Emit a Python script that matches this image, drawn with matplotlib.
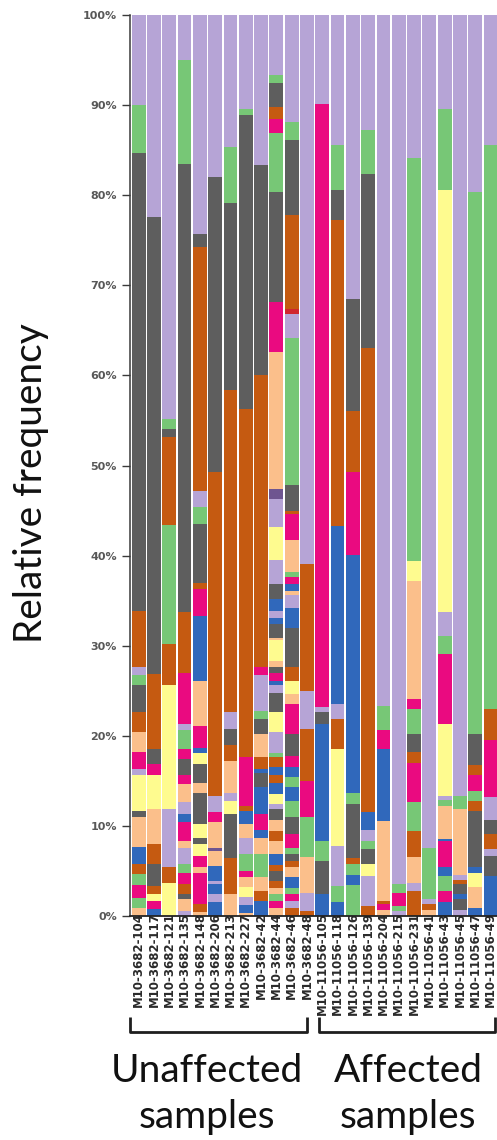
import numpy as np
import matplotlib
matplotlib.use("Agg")
import matplotlib.pyplot as plt
from matplotlib.transforms import blended_transform_factory

# ---------------------------------------------------------------- data
sample_labels = [
    "M10-3682-104", "M10-3682-117", "M10-3682-121", "M10-3682-135",
    "M10-3682-148", "M10-3682-206", "M10-3682-213", "M10-3682-227",
    "M10-3682-42", "M10-3682-44", "M10-3682-46", "M10-3682-48",
    "M10-11056-105", "M10-11056-118", "M10-11056-126", "M10-11056-139",
    "M10-11056-204", "M10-11056-215", "M10-11056-231", "M10-11056-41",
    "M10-11056-43", "M10-11056-45", "M10-11056-47", "M10-11056-49",
]
group_names = ["Unaffected\nsamples", "Affected\nsamples"]

# colour used for each taxon code
taxon_colors = {
    "L": "#b6a4d6",  # lavender
    "G": "#77c776",  # green
    "K": "#5e5e5e",  # grey
    "O": "#c55a11",  # rust orange
    "P": "#fbbf8b",  # peach
    "M": "#ea0a80",  # magenta
    "B": "#3068bb",  # blue
    "Y": "#fefb8f",  # pale yellow
    "V": "#6e5590",  # dark violet
    "R": "#d0262e",  # red
}

# taxon code of every layer, bottom to top, one string per sample
stack_codes = [
    "PGMGOBPKYLMPOKGLOKGL",
    "BMYOKOPYMKOKL",
    "YOLYOGOKGL",
    "LPKOMGLPMBLPMKMGLMOKGL",
    "POMPMYKYKPKYBMPBMOKGLOKL",
    "BLBLBPVPMLOKL",
    "POKYLPOKLOKGL",
    "PBLYPMGLPBOMOKGL",
    "BOPGPBMBKBOPKGLMOKL",
    "PMGPOKOBPOPKLYBOBOGLYKLBMKPYPKBLBKLYLVPMKGMOKGL",
    "OLMGBPOKGMKGBGBMKMPYOKBLPBMGPMOKGLROKGL",
    "OLPGMOLOL",
    "BKGBKLML",
    "BGLYOLBOKGL",
    "GBGOKGBMOKL",
    "OLYKGLBOKGL",
    "PMOPBMGL",
    "LGMGL",
    "OLPOGMOKGMPYGL",
    "POLGL",
    "BMGBMBPGLYMGLYGL",
    "LKBKOLPGL",
    "BPYBKOGMOKGL",
    "BKLOKLMOGL",
]

# cumulative relative frequency (%) at the top of every layer
stack_tops = [
    [0.9, 2.0, 3.4, 4.7, 5.8, 7.7, 11.0, 11.7, 15.6, 16.3, 18.2, 20.4, 22.6,
     25.6, 26.8, 27.6, 33.9, 84.7, 90.0, 100],
    [0.8, 1.7, 2.4, 3.3, 5.8, 8.0, 11.9, 15.7, 16.9, 18.5, 26.9, 77.6, 100],
    [3.7, 5.4, 11.9, 25.6, 30.2, 43.4, 53.2, 54.0, 55.2, 100],
    [0.6, 1.9, 2.4, 3.5, 4.8, 5.8, 7.6, 8.3, 10.4, 11.3, 12.6, 14.6, 15.7,
     17.4, 18.5, 20.6, 21.3, 27.0, 33.7, 83.5, 95.0, 100],
    [0.4, 1.3, 4.8, 5.4, 6.7, 8.0, 8.7, 10.2, 13.7, 14.8, 16.9, 18.1, 18.7,
     21.1, 26.1, 33.3, 36.3, 37.0, 43.5, 45.4, 47.2, 74.3, 75.7, 100],
    [1.5, 2.4, 3.5, 3.9, 5.6, 7.2, 7.6, 10.4, 11.5, 13.3, 49.3, 82.0, 100],
    [2.4, 6.4, 11.3, 12.8, 13.6, 17.2, 19.0, 20.8, 22.6, 58.4, 79.1, 85.4, 100],
    [0.3, 1.2, 2.1, 3.2, 4.3, 5.0, 6.9, 8.7, 10.2, 11.7, 12.2, 17.6, 56.3,
     88.9, 89.6, 100],
    [1.7, 2.8, 4.3, 6.9, 8.7, 9.5, 11.3, 14.3, 15.9, 16.3, 17.6, 20.2, 21.9,
     22.8, 26.7, 27.6, 60.0, 83.4, 100],
    [0.9, 1.7, 2.4, 3.1, 3.9, 5.0, 5.7, 6.9, 8.3, 9.4, 10.7, 11.9, 12.4, 13.5,
     14.8, 15.7, 16.5, 17.6, 18.1, 20.4, 22.6, 24.8, 25.6, 26.1, 27.0, 27.6,
     28.3, 30.6, 30.9, 32.4, 33.1, 33.9, 35.2, 36.9, 39.5, 43.2, 46.3, 47.4,
     62.6, 68.2, 80.4, 86.9, 88.5, 89.8, 92.4, 93.3, 100],
    [0.9, 1.7, 2.4, 3.1, 4.3, 5.4, 6.1, 6.9, 7.6, 9.1, 11.0, 12.8, 14.3, 15.4,
     16.5, 17.8, 20.2, 23.5, 24.6, 26.1, 27.6, 32.0, 34.2, 35.6, 36.1, 36.9,
     37.6, 38.2, 41.7, 44.6, 45.0, 47.8, 64.1, 66.8, 67.4, 77.8, 86.1, 88.1,
     100],
    [0.6, 2.6, 6.5, 11.0, 15.0, 20.7, 25.0, 39.1, 100],
    [2.4, 6.1, 8.3, 21.3, 22.6, 23.2, 90.1, 100],
    [1.5, 3.3, 7.8, 18.5, 21.9, 23.5, 43.3, 77.2, 80.6, 85.6, 100],
    [3.4, 4.6, 5.8, 6.4, 12.4, 13.7, 40.1, 49.3, 56.1, 68.5, 100],
    [1.1, 4.4, 5.8, 7.4, 8.3, 9.6, 11.5, 63.0, 82.3, 87.2, 100],
    [0.7, 1.3, 1.7, 10.5, 18.5, 20.6, 23.3, 100],
    [0.6, 1.1, 2.6, 3.5, 100],
    [2.8, 3.7, 6.5, 9.4, 12.6, 17.0, 18.2, 20.2, 23.0, 24.1, 37.2, 39.4,
     84.1, 100],
    [0.7, 1.3, 1.9, 7.6, 100],
    [1.5, 2.8, 4.4, 5.4, 8.3, 8.5, 12.2, 12.9, 13.3, 21.3, 29.1, 31.1, 33.7,
     80.6, 89.6, 100],
    [0.7, 1.9, 2.4, 3.5, 4.0, 4.6, 11.9, 13.3, 100],
    [0.9, 3.2, 4.8, 5.4, 11.7, 12.8, 13.9, 15.6, 16.8, 20.2, 80.4, 100],
    [4.4, 6.7, 7.4, 9.1, 10.6, 13.2, 19.5, 23.0, 85.6, 100],
]
y_ticks = list(range(0, 101, 10))

# ---------------------------------------------------------------- figure
W, H = 497, 1140
fig = plt.figure(figsize=(W / 100, H / 100), dpi=100)
ax_left, ax_top, ax_bottom = 129.5, 15, 916
ax = fig.add_axes([ax_left / W, 1 - ax_bottom / H,
                   (W - ax_left) / W, (ax_bottom - ax_top) / H])

for i, (codes, tops) in enumerate(zip(stack_codes, stack_tops)):
    tops = np.asarray(tops, dtype=float)
    bottoms = np.concatenate([[0.0], tops[:-1]])
    ax.bar(np.full(len(tops), i), tops - bottoms, bottom=bottoms, width=0.9,
           color=[taxon_colors[c] for c in codes], linewidth=0, zorder=2)

ax.set_xlim(-0.6, 23.42)
ax.set_ylim(0, 100)

for side in ("top", "right"):
    ax.spines[side].set_visible(False)
ax.spines["left"].set_color("#3a3a3a")
ax.spines["left"].set_linewidth(1.1)
ax.spines["bottom"].set_color("#222222")
ax.spines["bottom"].set_linewidth(1.3)

ax.set_yticks(y_ticks)
ax.set_yticklabels([f"{v}%" for v in y_ticks], fontsize=8,
                   fontweight="bold", color="#585858")
ax.tick_params(axis="y", length=5.5, width=1.0, color="#3a3a3a", pad=3.5)

ax.set_xticks(range(len(sample_labels)))
ax.set_xticklabels(sample_labels, rotation=90, fontsize=8.5,
                   fontweight="bold", color="#2a2a2a")
ax.tick_params(axis="x", length=0, pad=-3)

fig.text(31 / W, 1 - 483 / H, "Relative frequency", rotation=90,
         ha="center", va="center", fontsize=28, family="Lato",
         color="#111111")

# group brackets under the sample names
trans = blended_transform_factory(ax.transData, fig.transFigure)
y_hi, y_lo = 1 - 1017 / H, 1 - 1032 / H
bracket_spans = [(-0.57, 11.0), (11.79, 23.29)]
for x0, x1 in bracket_spans:
    ax.plot([x0, x0, x1, x1], [y_hi, y_lo, y_lo, y_hi], transform=trans,
            color="#1e1e1e", lw=2.0, clip_on=False,
            solid_joinstyle="round", solid_capstyle="butt")

text_centres = [207, 408]
for name, xc in zip(group_names, text_centres):
    first, second = name.split("\n")
    fig.text(xc / W, 1 - 1082 / H, first, ha="center", va="baseline",
             fontsize=28, family="Lato", color="#111111")
    fig.text(xc / W, 1 - 1128 / H, second, ha="center", va="baseline",
             fontsize=28, family="Lato", color="#111111")

fig.savefig("out.png", dpi=100)
